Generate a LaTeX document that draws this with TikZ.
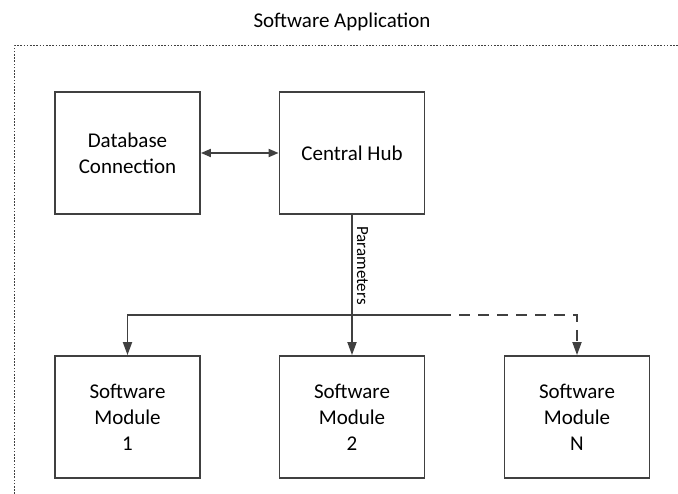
\documentclass[tikz,border=0pt]{standalone}
\usepackage{fontspec}
\setmainfont{Carlito}
\usetikzlibrary{arrows.meta}
\definecolor{ln}{HTML}{404040}
\tikzset{
  box/.style={draw=ln, line width=1.8pt, minimum width=145pt, minimum height=122pt, align=center, font=\fontsize{21}{26}\selectfont, inner sep=0pt},
  conn/.style={draw=ln, line width=1.8pt},
  tip/.style={-{Triangle[length=13pt,width=9pt]}},
  border/.style={draw=ln, line width=1pt, dash pattern=on 1.6pt off 1.6pt}
}
\begin{document}
\begin{tikzpicture}[x=1pt,y=-1pt]
\useasboundingbox (0,0) rectangle (678,494);
\node[font=\fontsize{21}{25}\selectfont] (title) at (342,22) {Software Application};
\coordinate (bl) at (14,494);
\coordinate (tl) at (14,46);
\coordinate (tr) at (678,46);
\draw[border] (bl) -- (tl) -- (tr);
\node[box] (db) at (127.5,153) {Database\\Connection};
\node[box] (hub) at (352,153) {Central Hub};
\node[box] (m1) at (127.5,417) {Software\\Module\\1};
\node[box] (m2) at (352,417) {Software\\Module\\2};
\node[box] (mn) at (577,417) {Software\\Module\\N};
\draw[conn, {Triangle[length=10pt,width=8pt]}-{Triangle[length=10pt,width=8pt]}] (db.east) -- (hub.west);
\coordinate (jl) at (127.5,315);
\coordinate (js) at (440,315);
\coordinate (jr) at (577,315);
\draw[conn, tip] (hub.south) -- node[pos=0.36, inner sep=4pt, font=\fontsize{17}{20}\selectfont, rotate=-90, anchor=south] (par) {Parameters} (m2.north);
\draw[conn, tip] (js) -- (jl) -- (m1.north);
\draw[conn, tip, dash pattern=on 11pt off 8pt] (js) -- (jr) -- (mn.north);
\end{tikzpicture}
\end{document}
